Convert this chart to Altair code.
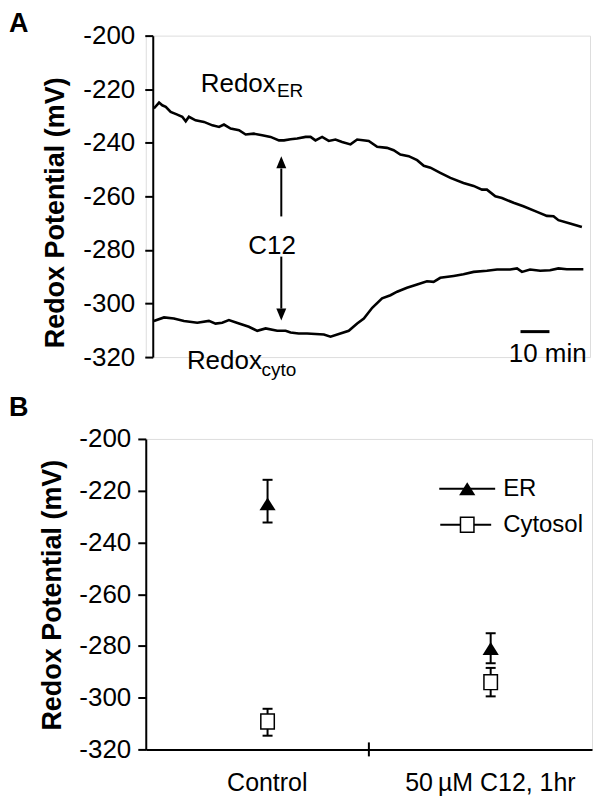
import altair as alt
import pandas as pd

FONT = "Liberation Sans"

# ---------------- Panel A: redox traces (time in min, potential in mV) ----------------
er_t = [0.4, 2.2, 3.3, 4.5, 6.2, 8.5, 10.2, 11.4, 12.5, 14.8, 17.7, 20.6, 22.9, 24.6, 26.9,
        29.8, 32.1, 34.9, 37.8, 40.7, 43.6, 45.3, 47.6, 49.9, 52.8, 54.5, 56.2, 58.5, 60.8,
        63.1, 65.4, 68.3, 70.6, 74.6, 77.5, 80.9, 83.2, 85.5, 88.4, 91.3, 93.6, 95.9, 99.3,
        102.8, 107.3, 110.8, 113.7, 115.4, 118.3, 120.6, 124.6, 128.0, 132.7, 136.1, 138.4,
        140.1, 144.1, 148.2]
er_mv = [-227.2, -225.0, -226.0, -226.6, -228.5, -229.5, -230.3, -232.0, -230.3, -231.6,
         -232.2, -233.5, -234.1, -233.2, -234.7, -235.3, -236.9, -236.6, -237.2, -237.8,
         -239.1, -239.1, -238.7, -238.4, -237.8, -237.8, -239.1, -237.8, -239.3, -238.8,
         -239.7, -240.6, -238.8, -239.3, -241.5, -241.9, -242.8, -244.4, -245.0, -246.5,
         -248.6, -249.3, -251.2, -253.1, -255.0, -256.1, -257.5, -257.5, -260.0, -260.6,
         -262.4, -263.7, -265.8, -267.3, -267.4, -268.9, -270.1, -271.4]
cyto_t = [0.4, 3.9, 7.3, 10.8, 15.4, 19.4, 21.7, 24.0, 26.3, 29.8, 33.2, 36.1, 39.0, 43.0,
          45.9, 47.6, 50.4, 53.3, 59.1, 61.4, 64.8, 67.7, 70.6, 72.9, 75.8, 79.2, 82.1, 84.4,
          87.8, 91.3, 94.7, 97.0, 99.3, 103.9, 107.3, 110.8, 115.4, 118.9, 123.4, 125.8,
          127.5, 130.3, 133.8, 137.2, 140.1, 143.0, 148.7]
cyto_mv = [-306.5, -305.2, -305.6, -306.5, -307.2, -306.5, -307.5, -307.2, -306.2, -307.5,
           -308.7, -310.2, -309.3, -310.2, -310.2, -310.8, -311.2, -311.2, -311.6, -312.4,
           -311.2, -310.2, -307.5, -305.6, -301.6, -298.1, -296.9, -295.6, -294.1, -292.9,
           -291.7, -291.9, -290.4, -289.7, -289.1, -288.2, -287.8, -287.3, -287.3, -286.9,
           -288.2, -287.3, -287.8, -287.6, -286.9, -287.2, -287.2]

# annotations in data coordinates (min, mV)
left_labels = ["Redox", "Redox"]
left_t = [16.6, 11.8]
left_mv = [-220.9, -324.3]
center_labels = ["C12", "10 min"]
center_t = [41.2, 136.4]
center_mv = [-278.7, -319.0]
sub_labels = ["ER", "cyto"]
sub_t = [42.9, 37.6]
sub_mv = [-222.8, -327.2]

scalebar_t = [127.0]
scalebar_t2 = [137.0]
scalebar_mv = [-310.5]

arrow_t = [44.4, 44.4]
arrow_from = [-267.5, -282.5]
arrow_to = [-249.6, -301.9]
arrowhead_mv = [-247.3, -304.1]

yticks = [-320, -300, -280, -260, -240, -220, -200]

# ---------------- Panel B: mean ± error ----------------
categories = ["Control", "50\u2009\u00b5M C12, 1hr"]
er_mean = [-225.1, -281.0]
er_low = [-232.3, -286.7]
er_high = [-215.8, -275.1]
cyto_mean = [-309.2, -294.0]
cyto_low = [-314.7, -299.5]
cyto_high = [-304.3, -288.5]
legend_labels = ["ER", "Cytosol"]

# ---------------- build ----------------
W_A, H_A = 445, 322
W_B, H_B = 447, 311
TRI = "M0,-1L1.25,1L-1.25,1Z"
SQ = "M-0.9,-1L0.9,-1L0.9,1L-0.9,1Z"


def y_axis(title_x, title_y, pad, offset=0):
    return alt.Axis(values=yticks, labelExpr="'' + datum.value", labelFont=FONT,
                    labelFontSize=26, labelColor="black", labelPadding=pad,
                    tickSize=8, tickWidth=2, tickColor="black", domainWidth=2,
                    domainColor="black", grid=False, offset=offset,
                    title="Redox Potential (mV)", titleFont=FONT, titleFontSize=27,
                    titleFontWeight="bold", titleColor="black", titleAngle=270,
                    titleBaseline="middle", titleX=title_x, titleY=title_y)


xA = alt.Scale(domain=[-2.4, 151.0], nice=False, zero=False)
yA = alt.Scale(domain=[-320, -200], nice=False, zero=False)

traces = pd.concat([
    pd.DataFrame({"t": er_t, "mv": er_mv, "series": "ER"}),
    pd.DataFrame({"t": cyto_t, "mv": cyto_mv, "series": "cyto"}),
])

lines = alt.Chart(traces).mark_line(color="black", strokeWidth=2.6).encode(
    x=alt.X("t:Q", scale=xA, axis=None),
    y=alt.Y("mv:Q", scale=yA, axis=y_axis(-97, 177, 10, offset=-7)),
    detail="series:N",
)

left_text = alt.Chart(pd.DataFrame({"t": left_t, "mv": left_mv, "label": left_labels})).mark_text(
    font=FONT, fontSize=26, color="black", align="left", baseline="alphabetic"
).encode(x="t:Q", y="mv:Q", text="label:N")
center_text = alt.Chart(pd.DataFrame({"t": center_t, "mv": center_mv, "label": center_labels})).mark_text(
    font=FONT, fontSize=26, color="black", align="center", baseline="middle"
).encode(x="t:Q", y="mv:Q", text="label:N")

sub_df = pd.DataFrame({"t": sub_t, "mv": sub_mv, "label": sub_labels})
sub_text = alt.Chart(sub_df).mark_text(
    font=FONT, fontSize=19, color="black", align="left", baseline="alphabetic"
).encode(x="t:Q", y="mv:Q", text="label:N")

bar_df = pd.DataFrame({"t": scalebar_t, "t2": scalebar_t2, "mv": scalebar_mv})
scalebar = alt.Chart(bar_df).mark_rule(color="black", strokeWidth=3).encode(
    x="t:Q", x2="t2:Q", y="mv:Q")

arrow_df = pd.DataFrame({"t": arrow_t, "mv": arrow_from, "mv2": arrow_to})
shafts = alt.Chart(arrow_df).mark_rule(color="black", strokeWidth=2).encode(
    x="t:Q", y="mv:Q", y2="mv2:Q")
head_up = alt.Chart(pd.DataFrame({"t": [arrow_t[0]], "mv": [arrowhead_mv[0]]})).mark_point(
    shape="M0,-1L0.83,1L-0.83,1Z", size=144, filled=True, color="black", opacity=1
).encode(x="t:Q", y="mv:Q")
head_down = alt.Chart(pd.DataFrame({"t": [arrow_t[1]], "mv": [arrowhead_mv[1]]})).mark_point(
    shape="M0,1L0.83,-1L-0.83,-1Z", size=144, filled=True, color="black", opacity=1
).encode(x="t:Q", y="mv:Q")

letter_a = alt.Chart(pd.DataFrame({"l": ["A"]})).mark_text(
    font=FONT, fontSize=27, fontWeight="bold", color="black", align="left", baseline="middle"
).encode(x=alt.value(-137), y=alt.value(-12), text="l:N")

panel_a = alt.layer(lines, left_text, center_text, sub_text, scalebar, shafts,
                    head_up, head_down, letter_a).properties(width=W_A, height=H_A)

# Panel B
rows = []
for i, c in enumerate(categories):
    rows.append({"cat": c, "series": "ER", "mean": er_mean[i], "low": er_low[i], "high": er_high[i]})
    rows.append({"cat": c, "series": "Cytosol", "mean": cyto_mean[i], "low": cyto_low[i], "high": cyto_high[i]})
bdf = pd.DataFrame(rows)

xB = alt.Scale(domain=categories, paddingInner=0, paddingOuter=0)
yB = alt.Scale(domain=[-320, -200], nice=False, zero=False)
x_axis_b = alt.Axis(labelAngle=0, labelFont=FONT, labelFontSize=25, labelColor="black",
                    ticks=False, tickSize=0, labelPadding=21, labelOffset=10, domainWidth=2,
                    domainColor="black", title=None, grid=False)
OFF = 122  # from band start

err_rules = alt.Chart(bdf).mark_rule(color="black", strokeWidth=2).encode(
    x=alt.X("cat:N", scale=xB, axis=x_axis_b, sort=categories),
    y=alt.Y("low:Q", scale=yB, axis=y_axis(-93, 156, 7)),
    y2="high:Q",
    xOffset=alt.value(OFF),
)
cap_lo = alt.Chart(bdf).mark_tick(color="black", thickness=2, size=10, opacity=1).encode(
    x=alt.X("cat:N", scale=xB, sort=categories), y=alt.Y("low:Q", scale=yB), xOffset=alt.value(OFF))
cap_hi = alt.Chart(bdf).mark_tick(color="black", thickness=2, size=10, opacity=1).encode(
    x=alt.X("cat:N", scale=xB, sort=categories), y=alt.Y("high:Q", scale=yB), xOffset=alt.value(OFF))
er_pts = alt.Chart(bdf[bdf.series == "ER"]).mark_point(
    shape=TRI, size=169, filled=True, color="black", opacity=1).encode(
    x=alt.X("cat:N", scale=xB, sort=categories), y=alt.Y("mean:Q", scale=yB), xOffset=alt.value(OFF))
cy_pts = alt.Chart(bdf[bdf.series == "Cytosol"]).mark_point(
    shape=SQ, size=225, filled=True, fill="white", stroke="black", strokeWidth=1.5, opacity=1).encode(
    x=alt.X("cat:N", scale=xB, sort=categories), y=alt.Y("mean:Q", scale=yB), xOffset=alt.value(OFF))

mid_tick = alt.Chart(pd.DataFrame({"cat": [categories[1]]})).mark_rule(
    color="black", strokeWidth=2).encode(
    x=alt.X("cat:N", scale=xB, sort=categories, bandPosition=0),
    y=alt.value(H_B - 7), y2=alt.value(H_B + 7))

# legend (drawn by hand)
leg_er_line = alt.Chart(pd.DataFrame({"k": [0]})).mark_rule(color="black", strokeWidth=2).encode(
    x=alt.value(294), x2=alt.value(350), y=alt.value(50))
leg_er_pt = alt.Chart(pd.DataFrame({"k": [0]})).mark_point(
    shape=TRI, size=169, filled=True, color="black", opacity=1).encode(
    x=alt.value(322), y=alt.value(50))
leg_cy_line = alt.Chart(pd.DataFrame({"k": [0]})).mark_rule(color="black", strokeWidth=2).encode(
    x=alt.value(295), x2=alt.value(346), y=alt.value(86))
leg_cy_pt = alt.Chart(pd.DataFrame({"k": [0]})).mark_point(
    shape=SQ, size=225, filled=True, fill="white", stroke="black", strokeWidth=1.5, opacity=1).encode(
    x=alt.value(322), y=alt.value(86))
leg_text_er = alt.Chart(pd.DataFrame({"l": [legend_labels[0]]})).mark_text(
    font=FONT, fontSize=24, color="black", align="left", baseline="middle").encode(
    x=alt.value(358), y=alt.value(50), text="l:N")
leg_text_cy = alt.Chart(pd.DataFrame({"l": [legend_labels[1]]})).mark_text(
    font=FONT, fontSize=24, color="black", align="left", baseline="middle").encode(
    x=alt.value(358), y=alt.value(86), text="l:N")

letter_b = alt.Chart(pd.DataFrame({"l": ["B"]})).mark_text(
    font=FONT, fontSize=27, fontWeight="bold", color="black", align="left", baseline="middle"
).encode(x=alt.value(-137), y=alt.value(-31), text="l:N")

panel_b = alt.layer(err_rules, cap_lo, cap_hi, er_pts, cy_pts, mid_tick,
                    leg_er_line, leg_er_pt, leg_cy_line, leg_cy_pt, leg_text_er, leg_text_cy,
                    letter_b).properties(width=W_B, height=H_B)

chart = alt.vconcat(panel_a, panel_b, spacing=12).properties(padding=0).configure_view(
    stroke=None).configure(font=FONT)

chart.save("out.html", embed_options={"renderer": "svg", "actions": False})
